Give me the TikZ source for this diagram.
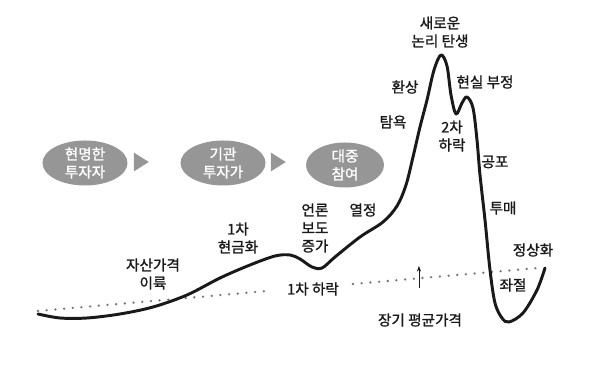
\documentclass[tikz,border=0pt]{standalone}
\usepackage{fontspec}
\setmainfont{Noto Sans CJK KR}[FakeBold=1.2]
\usepackage{tikz}
\usetikzlibrary{arrows.meta,shapes.geometric}
\definecolor{mygray}{RGB}{150,150,150}
\definecolor{mydots}{RGB}{115,115,115}
\definecolor{myink}{RGB}{25,25,25}

\begin{document}
\begin{tikzpicture}[x=0.025cm, y=-0.025cm,
  lbl/.style={font=\fontsize{10.4}{12.8}\selectfont, text=myink,
              align=center, inner sep=0pt},
  stage/.style={ellipse, fill=mygray, text=white, align=center, inner sep=0pt,
                minimum width=2.125cm, minimum height=1.125cm,
                font=\fontsize{10.4}{12.8}\selectfont},
  tri/.style={isosceles triangle, isosceles triangle stretches, fill=mygray,
              inner sep=0pt, minimum width=0.475cm, minimum height=0.375cm},
  avg/.style={mydots, line width=1.8pt, line cap=round,
              dash pattern=on 0pt off 6.2pt}]
  \useasboundingbox (0,0) rectangle (600,365);
  % investor stages
  \node[stage] (wise) at (85,163) {현명한\\투자자};
  \node[tri] (t1) at (139,162) {};
  \node[stage] (inst) at (223,163) {기관\\투자가};
  \node[tri] (t2) at (276,162) {};
  \node[stage, minimum width=1.95cm] (mass) at (345,165) {대중\\참여};
  % long-run average price
  \coordinate (a0) at (38,311);
  \coordinate (a1) at (267,291);
  \coordinate (a2) at (353,284);
  \coordinate (a3) at (538,268);
  \draw[avg] (a0) -- (a1);
  \draw[avg] (a2) -- (a3);
  \node[lbl] (drop1) at (313,289) {1차 하락};
  \coordinate (up0) at (419,288);
  \coordinate (up1) at (419,266);
  \draw[-{Stealth[length=4pt,width=3pt]}, myink, line width=0.6pt] (up0) -- (up1);
  \node[lbl] (mean) at (420,320) {장기 평균가격};
  % price curve
  \draw[myink, line width=2.1pt, line cap=round, line join=round]
    plot[smooth, tension=0.55] coordinates {
      (38,314) (60,318) (87,318) (120,314) (153,307) (187,295) (220,278)
      (250,265) (275,256) (290,255) (300,259) (312,267) (322,268) (335,257)
      (360,237) (383,222) (397,206) (406,185) (413,157) (420,127) (427,100)
      (434,70) (441,55) (447,66) (451,95) (456,114) (462,103) (467,97)
      (473,108) (477,140) (480,175) (485,220) (490,270) (495,303) (502,318)
      (509,322) (523,313) (537,290) (545,268)};
  % phase labels
  \node[lbl] (takeoff) at (153,274) {자산가격\\이륙};
  \node[lbl] (cash1) at (238,238) {1차\\현금화};
  \node[lbl] (press) at (315,228) {언론\\보도\\증가};
  \node[lbl] (zeal) at (363,210) {열정};
  \node[lbl] (greed) at (393,122) {탐욕};
  \node[lbl] (illus) at (405,87) {환상};
  \node[lbl] (newlogic) at (440,32) {새로운\\논리 탄생};
  \node[lbl] (denial) at (485,82) {현실 부정};
  \node[lbl] (drop2) at (452,136) {2차\\하락};
  \node[lbl] (fear) at (495,162) {공포};
  \node[lbl] (dump) at (503,208) {투매};
  \node[lbl] (normal) at (533,250) {정상화};
  \node[lbl] (despair) at (513,285) {좌절};
\end{tikzpicture}
\end{document}
